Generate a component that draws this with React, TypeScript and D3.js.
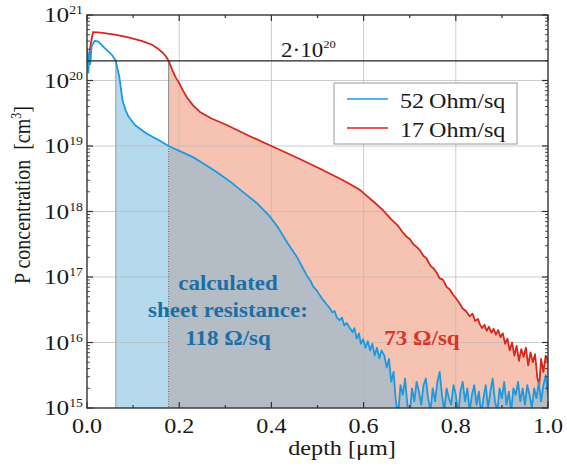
import React from "react";
import * as d3 from "d3";

// depth [um], log10 of P concentration [cm^-3]
const blueProfile: [number, number][] = [
  [0.0, 20.5], [0.002, 20.28], [0.003, 20.12], [0.005, 20.42], [0.007, 20.25], [0.01, 20.52],
  [0.017, 20.61], [0.025, 20.59], [0.039, 20.49], [0.054, 20.39], [0.0625, 20.3], [0.07, 20.06],
  [0.077, 19.7], [0.083, 19.56], [0.09, 19.45], [0.104, 19.32], [0.129, 19.19], [0.158, 19.08],
  [0.177, 19.0], [0.205, 18.91], [0.23, 18.83], [0.255, 18.72], [0.282, 18.6], [0.31, 18.46],
  [0.338, 18.3], [0.368, 18.13], [0.397, 17.92], [0.415, 17.75], [0.435, 17.52], [0.455, 17.31],
  [0.465, 17.18], [0.477, 17.02], [0.485, 16.94], [0.49, 16.86], [0.5, 16.78], [0.505, 16.72],
  [0.512, 16.65], [0.52, 16.58], [0.527, 16.52], [0.532, 16.46], [0.537, 16.48], [0.542, 16.38],
  [0.548, 16.34], [0.553, 16.38], [0.558, 16.26], [0.563, 16.3], [0.57, 16.22], [0.576, 16.16],
  [0.58, 16.22], [0.585, 16.06], [0.59, 16.14], [0.594, 15.98], [0.599, 16.05], [0.604, 15.92],
  [0.609, 16.02], [0.614, 15.88], [0.619, 15.98], [0.624, 15.8], [0.629, 15.92], [0.634, 15.76],
  [0.639, 15.88], [0.645, 15.8], [0.65, 15.62], [0.655, 15.75], [0.66, 15.4], [0.665, 15.55],
  [0.67, 15.1], [0.675, 14.9], [0.68, 15.35], [0.685, 15.2], [0.69, 15.45], [0.695, 15.05],
  [0.7, 14.9], [0.705, 15.3], [0.71, 15.1], [0.715, 15.4], [0.72, 15.25], [0.725, 15.05],
  [0.73, 15.35], [0.735, 15.45], [0.74, 15.15], [0.745, 14.95], [0.75, 15.3], [0.755, 15.1],
  [0.76, 15.4], [0.765, 15.55], [0.77, 15.2], [0.775, 14.95], [0.78, 15.3], [0.785, 15.15],
  [0.79, 15.05], [0.795, 15.35], [0.8, 15.2], [0.805, 14.9], [0.81, 15.25], [0.815, 15.4],
  [0.82, 15.1], [0.825, 15.3], [0.83, 14.95], [0.835, 15.2], [0.84, 15.35], [0.845, 15.05],
  [0.85, 15.25], [0.855, 14.9], [0.86, 15.15], [0.865, 15.35], [0.87, 15.0], [0.875, 15.25],
  [0.88, 15.45], [0.885, 15.1], [0.89, 14.95], [0.895, 15.3], [0.9, 15.15], [0.905, 15.4],
  [0.91, 15.05], [0.915, 15.25], [0.92, 14.95], [0.925, 15.3], [0.93, 15.2], [0.935, 15.4],
  [0.94, 15.1], [0.945, 15.3], [0.95, 15.05], [0.955, 15.35], [0.96, 15.2], [0.965, 15.0],
  [0.97, 15.3], [0.975, 15.15], [0.98, 15.4], [0.985, 15.1], [0.99, 15.35], [0.995, 15.5],
  [1.0, 15.2],
];

const redProfile: [number, number][] = [
  [0.003, 20.3], [0.008, 20.55], [0.013, 20.74], [0.03, 20.73], [0.06, 20.7], [0.09, 20.66],
  [0.12, 20.6], [0.14, 20.55], [0.155, 20.48], [0.165, 20.42], [0.172, 20.36], [0.177, 20.3],
  [0.185, 20.16], [0.193, 20.04], [0.2, 19.96], [0.208, 19.85], [0.217, 19.74], [0.23, 19.62],
  [0.245, 19.52], [0.27, 19.42], [0.303, 19.32], [0.35, 19.16], [0.4, 19.0], [0.45, 18.84],
  [0.498, 18.68], [0.549, 18.5], [0.57, 18.42], [0.592, 18.33], [0.61, 18.22], [0.625, 18.13],
  [0.642, 18.02], [0.66, 17.88], [0.675, 17.78], [0.685, 17.68], [0.694, 17.61], [0.7, 17.58],
  [0.708, 17.5], [0.715, 17.46], [0.722, 17.41], [0.73, 17.32], [0.736, 17.29], [0.745, 17.17],
  [0.752, 17.13], [0.759, 17.06], [0.765, 16.98], [0.772, 16.96], [0.78, 16.85], [0.787, 16.81],
  [0.793, 16.74], [0.8, 16.68], [0.808, 16.6], [0.815, 16.52], [0.822, 16.48], [0.83, 16.4],
  [0.836, 16.44], [0.842, 16.33], [0.848, 16.36], [0.852, 16.28], [0.857, 16.22], [0.862, 16.27],
  [0.867, 16.18], [0.872, 16.24], [0.877, 16.15], [0.882, 16.21], [0.887, 16.12], [0.892, 16.19],
  [0.897, 16.08], [0.902, 16.14], [0.907, 15.98], [0.912, 16.06], [0.917, 15.88], [0.922, 16.0],
  [0.927, 15.8], [0.932, 15.95], [0.937, 15.72], [0.942, 15.9], [0.947, 15.78], [0.952, 15.92],
  [0.957, 15.65], [0.962, 15.85], [0.967, 15.7], [0.972, 15.82], [0.977, 15.45], [0.981, 15.35],
  [0.985, 15.75], [0.99, 15.55], [0.995, 15.8], [1.0, 15.7],
];

const legendLabels = ["52\u2009Ohm/sq", "17\u2009Ohm/sq"];
const xTickLabels = ["0.0", "0.2", "0.4", "0.6", "0.8", "1.0"];
const yDecades = [15, 16, 17, 18, 19, 20, 21];
const limitLevel = 2e20;
const blueStart = 0.0625; // blue crosses 2e20
const redStart = 0.177; // red crosses 2e20

const W = 567, H = 470;
const SX = 1.15; // the original figure is a bit wider than Times
const serif = "'Liberation Serif', 'Times New Roman', serif";

const BLUE = "#1b9ae0";
const RED = "#d6281d";

function T(props: {
  x: number; y: number; anchor?: string; size?: number; weight?: string; fill?: string;
  children: React.ReactNode;
}) {
  const { x, y, anchor = "start", size = 21, weight = "normal", fill = "#1a1a1a", children } = props;
  return (
    <text
      transform={`translate(${x},${y}) scale(${SX},1)`}
      textAnchor={anchor}
      fontSize={size}
      fontWeight={weight}
      fill={fill}
      fontFamily={serif}
    >
      {children}
    </text>
  );
}

export default function App() {
  const x = d3.scaleLinear().domain([0, 1]).range([87, 548]);
  const y = d3.scaleLog().domain([1e15, 1e21]).range([408, 15]);
  const [x0, x1] = x.range();
  const [yb, yt] = y.range();

  const toPt = (d: [number, number]) => ({ d: d[0], c: Math.pow(10, d[1]) });
  const blue = blueProfile.map(toPt);
  const red = redProfile.map(toPt);

  const line = d3.line<{ d: number; c: number }>().x((p) => x(p.d)).y((p) => y(p.c));
  const area = d3
    .area<{ d: number; c: number }>()
    .x((p) => x(p.d))
    .y0(yb)
    .y1((p) => y(p.c));

  const blueLight = blue.filter((p) => p.d >= blueStart && p.d <= redStart);
  const blueGray = blue.filter((p) => p.d >= redStart);
  const redFill = red.filter((p) => p.d >= redStart);

  const xTicks = d3.range(0, 11).map((i) => i / 10);
  const yMinor: number[] = [];
  for (let e = 15; e < 21; e++) for (let m = 2; m <= 9; m++) yMinor.push(m * Math.pow(10, e));

  return (
    <svg width={W} height={H} style={{ display: "block", position: "absolute", left: 0, top: 0 }}>
      <defs>
        <clipPath id="plot">
          <rect x={x0} y={yt} width={x1 - x0} height={yb - yt} />
        </clipPath>
      </defs>
      <rect width={W} height={H} fill="#fff" />

      <g clipPath="url(#plot)">
        <path d={area(redFill) || ""} fill="#f6c3b2" />
        <path d={area(blueLight) || ""} fill="#b5daee" />
        <path d={area(blueGray) || ""} fill="#b4bcc6" />

        {/* grid */}
        {[0.2, 0.4, 0.6, 0.8].map((v) => (
          <line key={"gx" + v} x1={x(v)} x2={x(v)} y1={yt} y2={yb} stroke="#b8b8b8" strokeOpacity={0.7} />
        ))}
        {yDecades.slice(1, -1).map((e) => (
          <line key={"gy" + e} x1={x0} x2={x1} y1={y(Math.pow(10, e))} y2={y(Math.pow(10, e))} stroke="#b8b8b8" strokeOpacity={0.7} />
        ))}

        {/* integration limits */}
        <line x1={x(blueStart)} x2={x(blueStart)} y1={y(limitLevel)} y2={yb} stroke="#8c9aa4" strokeWidth={1} />
        <line x1={x(redStart)} x2={x(redStart)} y1={y(limitLevel)} y2={y(1e19)} stroke="#8a8a8a" strokeWidth={1} />
        <line x1={x(redStart)} x2={x(redStart)} y1={y(1e19)} y2={yb} stroke="#666" strokeWidth={1} strokeDasharray="1,1.5" />

        <path d={line(red) || ""} fill="none" stroke={RED} strokeWidth={1.8} strokeLinejoin="round" />
        <path d={line(blue) || ""} fill="none" stroke={BLUE} strokeWidth={1.8} strokeLinejoin="round" />

        <line x1={x0} x2={x1} y1={y(limitLevel)} y2={y(limitLevel)} stroke="#222" strokeWidth={1.2} />
      </g>

      {/* ticks */}
      {xTicks.map((v, i) => {
        const len = i % 2 === 0 ? 6 : 3;
        return (
          <g key={"tx" + i} stroke="#333" strokeWidth={1.2}>
            <line x1={x(v)} x2={x(v)} y1={yb} y2={yb - len} />
            <line x1={x(v)} x2={x(v)} y1={yt} y2={yt + len} />
          </g>
        );
      })}
      {yDecades.map((e) => (
        <g key={"ty" + e} stroke="#333" strokeWidth={1.2}>
          <line x1={x0} x2={x0 + 6} y1={y(Math.pow(10, e))} y2={y(Math.pow(10, e))} />
          <line x1={x1} x2={x1 - 6} y1={y(Math.pow(10, e))} y2={y(Math.pow(10, e))} />
        </g>
      ))}
      {yMinor.map((v, i) => (
        <g key={"tm" + i} stroke="#333" strokeWidth={0.9}>
          <line x1={x0} x2={x0 + 3} y1={y(v)} y2={y(v)} />
          <line x1={x1} x2={x1 - 3} y1={y(v)} y2={y(v)} />
        </g>
      ))}
      <rect x={x0} y={yt} width={x1 - x0} height={yb - yt} fill="none" stroke="#333" strokeWidth={1.4} />

      {/* tick labels */}
      {xTickLabels.map((s, i) => (
        <T key={"lx" + s} x={x(i * 0.2)} y={433} anchor="middle">{s}</T>
      ))}
      {yDecades.map((e) => (
        <T key={"ly" + e} x={83} y={y(Math.pow(10, e)) + 7} anchor="end" size={22}>
          10<tspan fontSize={12} dy={-8}>{e}</tspan>
        </T>
      ))}

      {/* axis titles */}
      <T x={342} y={455} anchor="middle">depth [μm]</T>
      <text
        transform={`translate(30,195) rotate(-90) scale(1,${SX})`}
        textAnchor="middle"
        fontSize={20}
        fontFamily={serif}
        fill="#1a1a1a"
      >
        P concentration{"\u2002"}[cm<tspan fontSize={12} dy={-8}>3</tspan><tspan dy={8}>]</tspan>
      </text>

      {/* 2e20 label */}
      <T x={281} y={57} size={20}>
        2·10<tspan fontSize={11} dy={-9}>20</tspan>
      </T>

      {/* legend */}
      <rect x={334} y={83} width={183} height={61} fill="#fff" stroke="#9a9a9a" strokeWidth={1} />
      {legendLabels.map((s, i) => (
        <g key={"lg" + i}>
          <line x1={347} x2={388} y1={99 + i * 29} y2={99 + i * 29} stroke={i === 0 ? BLUE : RED} strokeWidth={1.6} />
          <T x={400} y={108 + i * 29} size={21}>{s}</T>
        </g>
      ))}

      {/* annotations */}
      <T x={228} y={290} anchor="middle" size={20} weight="bold" fill="#1a6fa6">calculated</T>
      <T x={228} y={317} anchor="middle" size={20} weight="bold" fill="#1a6fa6">sheet resistance:</T>
      <T x={228} y={345} anchor="middle" size={20} weight="bold" fill="#1a6fa6">118 Ω/sq</T>
      <T x={422} y={345} anchor="middle" size={20} weight="bold" fill="#d8362a">73 Ω/sq</T>
    </svg>
  );
}
